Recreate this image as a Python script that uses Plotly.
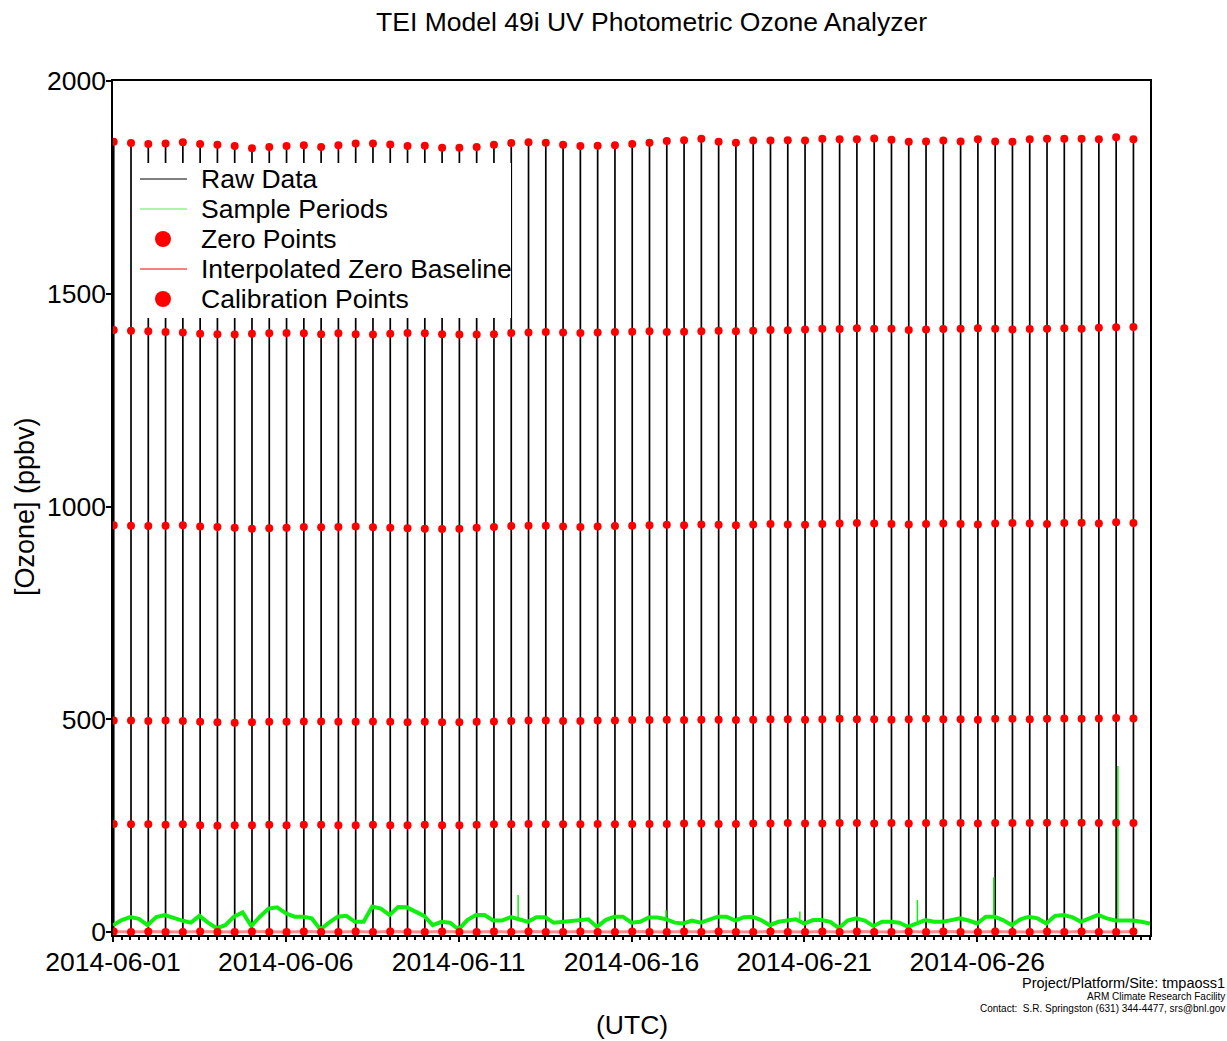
import pandas as pd
import plotly.graph_objects as go

# ---------------- data ----------------
START = pd.Timestamp("2014-06-01 00:00:00")
END = pd.Timestamp("2014-07-01 00:00:00")
x_ticks = ["2014-06-01", "2014-06-06", "2014-06-11", "2014-06-16", "2014-06-21", "2014-06-26"]
y_ticks = [0, 500, 1000, 1500, 2000]

# calibration events (twice a day)
cal_times = pd.date_range("2014-06-01 00:30", periods=60, freq="12h")

cal_1850 = [1857, 1854, 1852, 1853, 1856, 1852, 1850, 1847, 1842, 1845,
            1847, 1849, 1845, 1849, 1853, 1853, 1851, 1847, 1848, 1843,
            1843, 1845, 1850, 1854, 1856, 1855, 1850, 1847, 1848, 1849,
            1852, 1855, 1859, 1861, 1864, 1857, 1855, 1860, 1860, 1861,
            1860, 1864, 1863, 1863, 1865, 1862, 1857, 1858, 1860, 1858,
            1863, 1858, 1857, 1863, 1864, 1864, 1864, 1863, 1868, 1863]
cal_1410 = [1415, 1413, 1412, 1410, 1409, 1406, 1405, 1404, 1406, 1407,
            1408, 1407, 1405, 1407, 1405, 1404, 1406, 1408, 1407, 1405,
            1404, 1404, 1405, 1408, 1409, 1410, 1409, 1408, 1409, 1410,
            1411, 1412, 1410, 1411, 1412, 1413, 1412, 1413, 1415, 1414,
            1416, 1418, 1417, 1419, 1418, 1418, 1415, 1416, 1417, 1418,
            1419, 1418, 1416, 1417, 1418, 1419, 1418, 1420, 1421, 1422]
cal_955 = [956, 955, 954, 955, 956, 953, 952, 950, 948, 949,
           950, 952, 951, 952, 953, 951, 950, 949, 948, 947,
           948, 950, 952, 954, 955, 955, 953, 952, 953, 954,
           955, 956, 957, 956, 958, 957, 956, 958, 959, 958,
           957, 959, 960, 961, 960, 959, 958, 959, 960, 959,
           958, 960, 961, 960, 959, 961, 962, 960, 963, 961]
cal_500 = [497, 497, 496, 497, 496, 494, 493, 492, 493, 494,
           494, 495, 495, 494, 494, 495, 494, 493, 494, 493,
           493, 494, 495, 496, 497, 497, 496, 496, 497, 497,
           498, 498, 499, 498, 499, 499, 498, 499, 500, 500,
           499, 500, 501, 500, 500, 499, 500, 501, 500, 500,
           499, 501, 501, 500, 501, 502, 501, 502, 503, 502]
cal_250 = [254, 253, 253, 252, 253, 251, 250, 251, 251, 252,
           251, 252, 252, 251, 251, 252, 251, 251, 252, 251,
           251, 252, 253, 253, 254, 253, 253, 253, 254, 253,
           254, 254, 254, 255, 255, 254, 254, 255, 255, 256,
           255, 255, 256, 256, 255, 256, 255, 256, 256, 256,
           255, 256, 256, 256, 257, 256, 257, 256, 257, 256]
zero_vals = [1, 0, 1, 0, 0, 1, 0, 0, 1, 0,
             0, 1, 0, 0, 1, 0, 1, 0, 0, 1,
             0, 0, 1, 0, 1, 0, 0, 1, 0, 0,
             1, 0, 0, 1, 0, 1, 0, 0, 1, 0,
             0, 1, 0, 1, 0, 0, 1, 0, 1, 0,
             0, 1, 0, 0, 1, 0, 1, 0, 0, 1]

# ambient sample periods (ppbv), every 6 h from 2014-06-01 00:00
sample_vals = [16, 28, 35, 31, 16, 35, 40, 33, 27, 22, 38, 22, 9, 16, 36, 46,
               14, 36, 55, 58, 44, 36, 36, 32, 6, 22, 36, 38, 24, 24, 60, 55,
               40, 59, 58, 48, 38, 16, 24, 22, 6, 28, 40, 40, 27, 27, 35, 30,
               24, 35, 35, 22, 24, 28, 30, 30, 12, 28, 36, 36, 22, 24, 34, 34,
               30, 22, 20, 27, 22, 28, 36, 36, 27, 35, 36, 28, 16, 24, 27, 30,
               20, 28, 28, 24, 9, 27, 32, 27, 14, 24, 24, 22, 12, 20, 28, 24,
               24, 28, 32, 27, 20, 36, 36, 28, 16, 30, 36, 32, 20, 38, 40, 35,
               24, 32, 40, 32, 27, 27, 27, 24, 20]
sample_times = pd.date_range("2014-06-01 00:00", periods=len(sample_vals), freq="6h")

# short spikes in the sample record
spike_times = pd.to_datetime(["2014-06-12 17:17", "2014-06-17 00:00", "2014-06-20 20:53",
                              "2014-06-24 06:29", "2014-06-26 11:31", "2014-06-30 01:41"])
spike_base = [30, 30, 30, 20, 36, 27]
spike_peak = [87, 51, 48, 75, 129, 390]

legend_labels = ["Raw Data", "Sample Periods", "Zero Points",
                 "Interpolated Zero Baseline", "Calibration Points"]

# ---------------- figure ----------------
GREEN = "#10f010"
fig = go.Figure()

# raw data: calibration excursions
rx, ry = [], []
for i, t in enumerate(cal_times):
    rx += [t, t, None]
    ry += [zero_vals[i], cal_1850[i], None]
fig.add_trace(go.Scatter(x=rx, y=ry, mode="lines", line=dict(color="black", width=1.7),
                         showlegend=False, hoverinfo="skip"))

# sample periods
fig.add_trace(go.Scatter(x=sample_times, y=sample_vals, mode="lines",
                         line=dict(color=GREEN, width=4), showlegend=False))
sx, sy = [], []
for t, b, p in zip(spike_times, spike_base, spike_peak):
    sx += [t, t, None]
    sy += [b, p, None]
fig.add_trace(go.Scatter(x=sx, y=sy, mode="lines", line=dict(color=GREEN, width=1.5),
                         showlegend=False))

# interpolated zero baseline
fig.add_trace(go.Scatter(x=cal_times, y=zero_vals, mode="lines",
                         line=dict(color="rgba(255,0,0,0.45)", width=3), showlegend=False))

# zero points
fig.add_trace(go.Scatter(x=cal_times, y=zero_vals, mode="markers",
                         marker=dict(color="red", size=8), showlegend=False))

# calibration points
cx, cy = [], []
for lvl in (cal_250, cal_500, cal_955, cal_1410, cal_1850):
    cx += list(cal_times)
    cy += lvl
fig.add_trace(go.Scatter(x=cx, y=cy, mode="markers", marker=dict(color="red", size=8),
                         showlegend=False))

FONT = "Liberation Sans, Arial, sans-serif"
FS = 26.5

fig.update_layout(
    width=1227, height=1041,
    margin=dict(l=113, r=77, t=81, b=106),
    paper_bgcolor="white", plot_bgcolor="white",
    font=dict(family=FONT, color="black", size=FS),
    title=dict(text="TEI Model 49i UV Photometric Ozone Analyzer", x=0.531, xanchor="center",
               y=0.979, yanchor="middle", font=dict(size=FS)),
    showlegend=False,
)

fig.update_xaxes(
    type="date", range=[START, END], showgrid=False, zeroline=False,
    showline=True, linecolor="black", linewidth=1.5, mirror=True,
    ticks="outside", ticklen=5, tickcolor="black", tickwidth=1.5,
    tickmode="array", tickvals=x_ticks, ticktext=x_ticks,
    ticklabelstandoff=-3, tickfont=dict(size=FS),
    minor=dict(ticks="outside", ticklen=3, tickmode="linear", tick0="2014-06-01",
               dtick=86400000 / 4, tickcolor="black", showgrid=False),
)
fig.update_yaxes(
    range=[-7, 2000], showgrid=False, zeroline=False,
    showline=True, linecolor="black", linewidth=1.5, mirror=True,
    ticks="outside", ticklen=5, tickcolor="black", tickwidth=1.5,
    tickvals=y_ticks, ticklabelstandoff=-5, tickfont=dict(size=FS),
)

# ---- hand-built legend (paper coordinates) ----
PL, PW, PB, PH = 113, 1037, 935, 854
def px(x):
    return (x - PL) / PW
def py(y):
    return (PB - y) / PH

fig.add_shape(type="rect", xref="paper", yref="paper", x0=px(137), x1=px(511),
              y0=py(318), y1=py(163), fillcolor="white", line=dict(width=0), layer="above")
rows = [179, 209, 239, 269, 299]
styles = [("line", "black"), ("line", "#55ee55"), ("dot", "red"), ("line", "red"), ("dot", "red")]
for (kind, col), yy, lab in zip(styles, rows, legend_labels):
    if kind == "line":
        fig.add_shape(type="line", xref="paper", yref="paper", x0=px(140), x1=px(187),
                      y0=py(yy), y1=py(yy), line=dict(color=col, width=1), layer="above")
    else:
        fig.add_shape(type="circle", xref="paper", yref="paper", x0=px(155), x1=px(171),
                      y0=py(yy + 8), y1=py(yy - 8), fillcolor=col, line=dict(width=0),
                      layer="above")
    fig.add_annotation(xref="paper", yref="paper", x=px(199), y=py(yy), text=lab,
                       showarrow=False, xanchor="left", yanchor="middle",
                       font=dict(size=FS))

ann = [
    dict(text="[Ozone] (ppbv)", x=px(25), y=py(507), textangle=-90, font=dict(size=27)),
    dict(text="(UTC)", x=px(632), y=py(1025), font=dict(size=FS)),
    dict(text="Project/Platform/Site: tmpaoss1", x=px(1227), y=py(983), xanchor="right",
         font=dict(size=14.5)),
    dict(text="ARM Climate Research Facility", x=px(1227), y=py(996), xanchor="right",
         font=dict(size=10)),
    dict(text="Contact:  S.R. Springston (631) 344-4477, srs@bnl.gov", x=px(1227), y=py(1008),
         xanchor="right", font=dict(size=10)),
]
for a in ann:
    a.setdefault("xanchor", "center")
    fig.add_annotation(xref="paper", yref="paper", showarrow=False, yanchor="middle", **a)

fig.write_html("out.html", post_script="document.body.style.margin='0px';",
               config={"displayModeBar": False})
